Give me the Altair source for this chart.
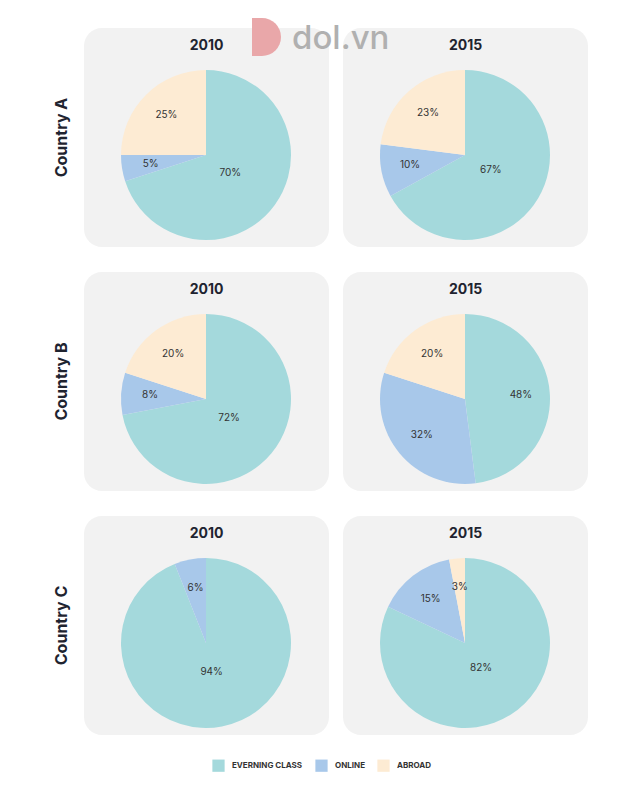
import altair as alt
import pandas as pd

countries = ["Country A", "Country B", "Country C"]
years = ["2010", "2015"]
categories = ["EVERNING CLASS", "ONLINE", "ABROAD"]
colors = ["#a4d9dc", "#a8c8ea", "#fdebd3"]

# values per panel, order: A2010, A2015, B2010, B2015, C2010, C2015
evening = [70, 67, 72, 48, 94, 82]
online = [5, 10, 8, 32, 6, 15]
abroad = [25, 23, 20, 20, 0, 3]

rows = []
k = 0
for c in countries:
    for y in years:
        for i, (cat, vals) in enumerate(zip(categories, [evening, online, abroad])):
            v = vals[k]
            rows.append({"country": c, "year": y, "cat": cat, "idx": i,
                         "pct": v, "label": f"{v}%"})
        k += 1
df = pd.DataFrame(rows)

W, H = 245, 219
CX, CY, R = 122, 127, 85
FONT = "Inter"
DARK = "#1f2430"

color_enc = alt.Color(
    "cat:N",
    scale=alt.Scale(domain=categories, range=colors),
    legend=alt.Legend(
        title=None, orient="none", direction="horizontal",
        legendX=204, legendY=731,
        symbolType="square", symbolSize=150, symbolStrokeWidth=0,
        labelFont=FONT, labelFontSize=8, labelFontWeight="bold",
        labelColor="#333333", labelOffset=7, columnPadding=12,
    ),
)


def panel(country, year, logo=False):
    sub = df[(df.country == country) & (df.year == year)]
    base = alt.Chart(sub).transform_window(
        cum="sum(pct)", sort=[alt.SortField("idx")], frame=[None, 0]
    ).transform_calculate(
        t1="datum.cum / 100 * 2 * PI",
        t0="(datum.cum - datum.pct) / 100 * 2 * PI",
    ).transform_calculate(
        tm="(datum.t0 + datum.t1) / 2",
        lr="datum.pct > 50 ? 30 : 56",
    )
    arcs = base.mark_arc(outerRadius=R).encode(
        theta=alt.Theta("t0:Q", scale=None),
        theta2="t1:Q",
        color=color_enc,
        x=alt.value(CX), y=alt.value(CY),
    )
    labels = base.transform_filter("datum.pct > 0").mark_text(
        font=FONT, fontSize=10, color="#333333"
    ).encode(
        theta=alt.Theta("tm:Q", scale=None),
        radius=alt.Radius("lr:Q", scale=None),
        text="label:N",
        x=alt.value(CX), y=alt.value(CY),
    )
    title = alt.Chart(pd.DataFrame({"t": [year]})).mark_text(
        font=FONT, fontSize=14, fontWeight="bold", color=DARK
    ).encode(text="t:N", x=alt.value(W / 2), y=alt.value(18))
    layers = [arcs, labels, title]
    if logo:
        one = alt.Chart(pd.DataFrame({"t": ["dol.vn"]}))
        icon_a = one.mark_arc(color="#e9a7a9", outerRadius=19, theta=0, theta2=3.1416).encode(
            x=alt.value(-81), y=alt.value(9))
        icon_r = one.mark_rect(color="#e9a7a9").encode(
            x=alt.value(-91), x2=alt.value(-81), y=alt.value(-10), y2=alt.value(28))
        txt = one.mark_text(font=FONT, fontSize=33, fontWeight=500, color="#b0b0b0",
                            align="left", baseline="middle").encode(
            text="t:N", x=alt.value(-51), y=alt.value(11))
        layers += [icon_a, icon_r, txt]
    return alt.layer(*layers).properties(
        width=W, height=H,
        view=alt.ViewBackground(fill="#f2f2f2", cornerRadius=18, strokeWidth=0),
    )


def row_label(country):
    return alt.Chart(pd.DataFrame({"t": [country]})).mark_text(
        angle=270, font=FONT, fontSize=16, fontWeight="bold", color=DARK
    ).encode(text="t:N", x=alt.value(54), y=alt.value(H / 2)).properties(
        width=62, height=H,
        view=alt.ViewBackground(fill="white", strokeWidth=0),
    )


row_charts = []
for c in countries:
    row_charts.append(alt.hconcat(
        row_label(c),
        panel(c, "2010"),
        panel(c, "2015", logo=(c == "Country A")),
        spacing=14, bounds="flush",
    ))

chart = alt.vconcat(*row_charts, spacing=25).properties(
    padding={"left": 0, "top": 10, "right": 0, "bottom": 40}
).configure_view(stroke="transparent").configure(background="white")

chart.save("out.html", embed_options={"renderer": "svg", "actions": False})
